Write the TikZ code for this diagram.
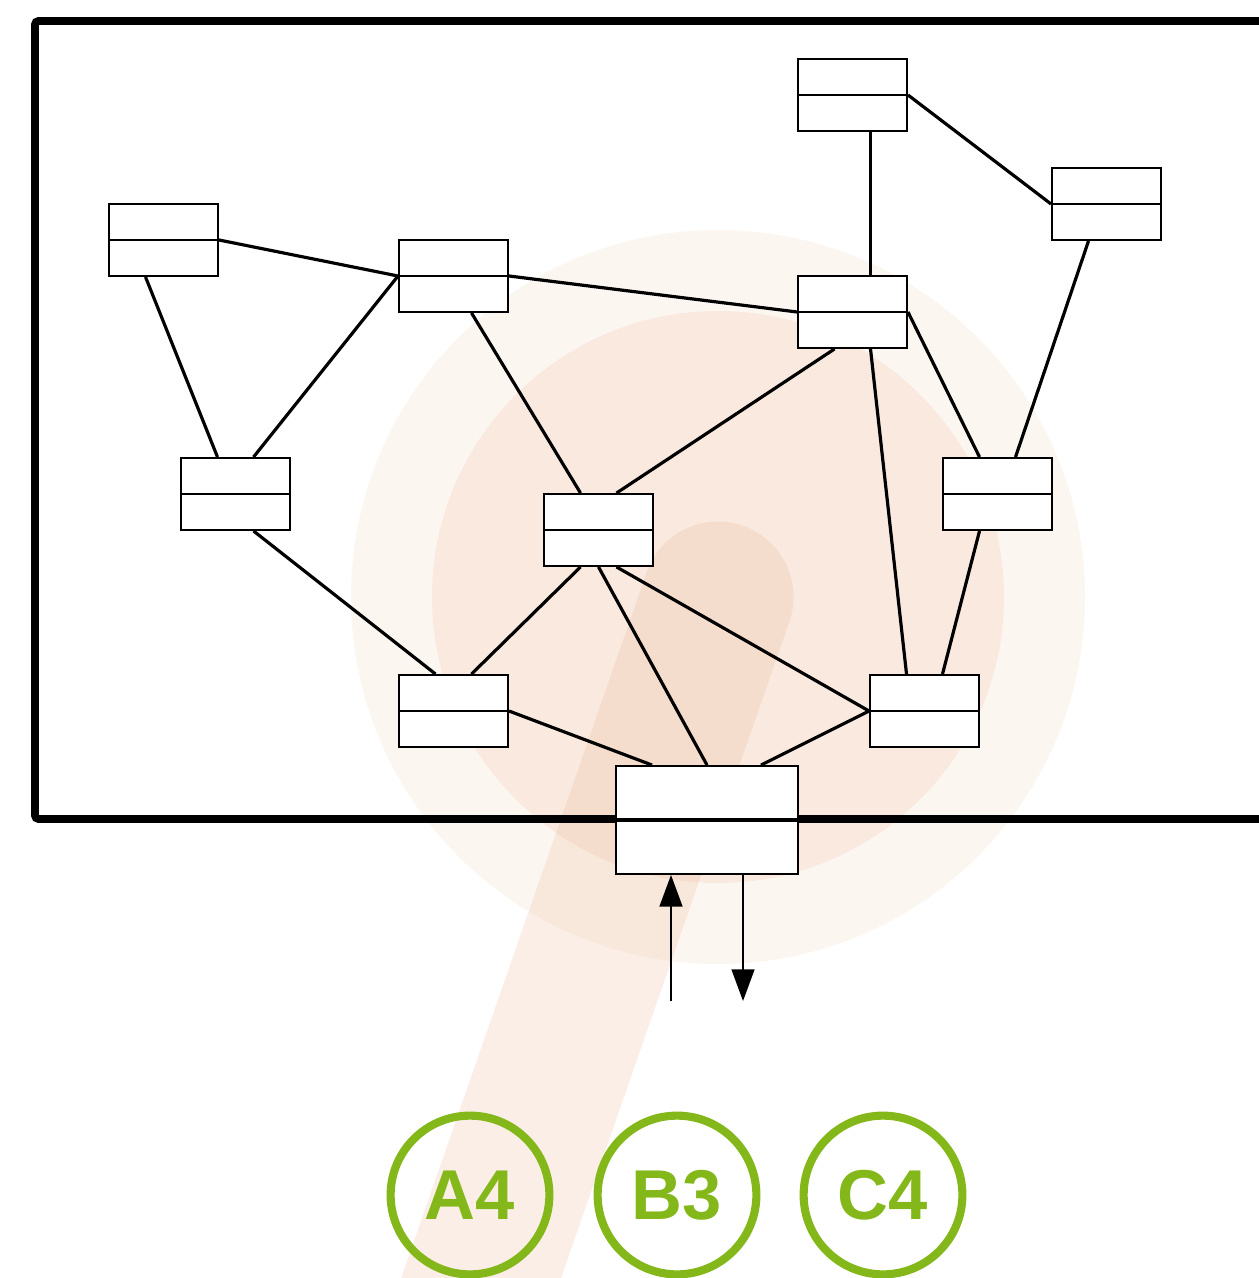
\documentclass[tikz,border=0pt]{standalone}
\usepackage{fontspec}
\setmainfont{Liberation Sans}
\usetikzlibrary{calc,arrows.meta}
\definecolor{pinc}{RGB}{230,170,130}
\definecolor{grn}{RGB}{132,184,26}
\tikzset{
  cls/.style={draw, fill=white, line width=1.1pt, inner sep=0pt, minimum width=61.8pt, minimum height=40.8pt},
  bigcls/.style={draw, fill=white, line width=1.1pt, inner sep=0pt, minimum width=103.2pt, minimum height=61.2pt},
  link/.style={line width=1.8pt},
  flow/.style={line width=1.1pt, -{Triangle[length=18pt,width=13pt]}},
  badge/.style={circle, draw=grn, line width=4.6pt, minimum size=90pt, inner sep=0pt, text=grn, font=\fontsize{40}{40}\selectfont\bfseries}
}
\begin{document}
\begin{tikzpicture}[x=0.5669pt, y=-0.5669pt]
\useasboundingbox (0,0) rectangle (1258,1278);
% background pin
\fill[pinc, opacity=0.11] (718,597) circle (367);
\fill[pinc, opacity=0.165] (718,597) circle (286);
\draw[pinc, opacity=0.2, line width=85.6pt, line cap=round] (718,597) -- (470,1310);
% frame
\draw[line width=4.4pt, rounded corners=2pt] (35,21) rectangle (1320,819);
% nodes
\node[cls] (b1) at (852.5,95) {};
\node[cls] (b2) at (1106.5,204) {};
\node[cls] (b3) at (163.5,240) {};
\node[cls] (b4) at (453.5,276) {};
\node[cls] (b5) at (852.5,312) {};
\node[cls] (b6) at (235.5,494) {};
\node[cls] (b7) at (598.5,530) {};
\node[cls] (b8) at (997.5,494) {};
\node[cls] (b9) at (453.5,711) {};
\node[cls] (b10) at (924.5,711) {};
\node[bigcls] (b11) at (707,820) {};
% connectors
\begin{scope}[link]
\draw ($(b1.south)+(18,0)$) -- ($(b5.north)+(18,0)$);
\draw (b1.east) -- (b2.west);
\draw (b3.east) -- (b4.west);
\draw (b4.east) -- (b5.west);
\draw ($(b3.south)+(-18,0)$) -- ($(b6.north)+(-18,0)$);
\draw (b4.west) -- ($(b6.north)+(18,0)$);
\draw ($(b4.south)+(18,0)$) -- ($(b7.north)+(-18,0)$);
\draw ($(b5.south)+(-18,0)$) -- ($(b7.north)+(18,0)$);
\draw (b5.east) -- ($(b8.north)+(-18,0)$);
\draw ($(b2.south)+(-18,0)$) -- ($(b8.north)+(18,0)$);
\draw ($(b5.south)+(18,0)$) -- ($(b10.north)+(-18,0)$);
\draw ($(b8.south)+(-18,0)$) -- ($(b10.north)+(18,0)$);
\draw ($(b6.south)+(18,0)$) -- ($(b9.north)+(-18,0)$);
\draw ($(b7.south)+(-18,0)$) -- ($(b9.north)+(18,0)$);
\draw (b7.south) -- (b11.north);
\draw ($(b7.south)+(18,0)$) -- (b10.west);
\draw (b9.east) -- ($(b11.north)+(-55,0)$);
\draw (b10.west) -- ($(b11.north)+(54,0)$);
\end{scope}
% dividers
\foreach \n in {b1,b2,b3,b4,b5,b6,b7,b8,b9,b10}{
  \draw[line width=1.1pt] (\n.west) -- (\n.east);
}
\draw[line width=2pt] (b11.west) -- (b11.east);
% arrows
\coordinate (inS) at (671,1001);
\coordinate (outE) at (743,1001);
\draw[flow] (inS) -- (inS |- b11.south);
\draw[flow] (outE |- b11.south) -- (outE);
% badges
\node[badge] (ca) at (470,1195) {A4};
\node[badge] (cb) at (677,1195) {B3};
\node[badge] (cc) at (883,1195) {C4};
\end{tikzpicture}
\end{document}
